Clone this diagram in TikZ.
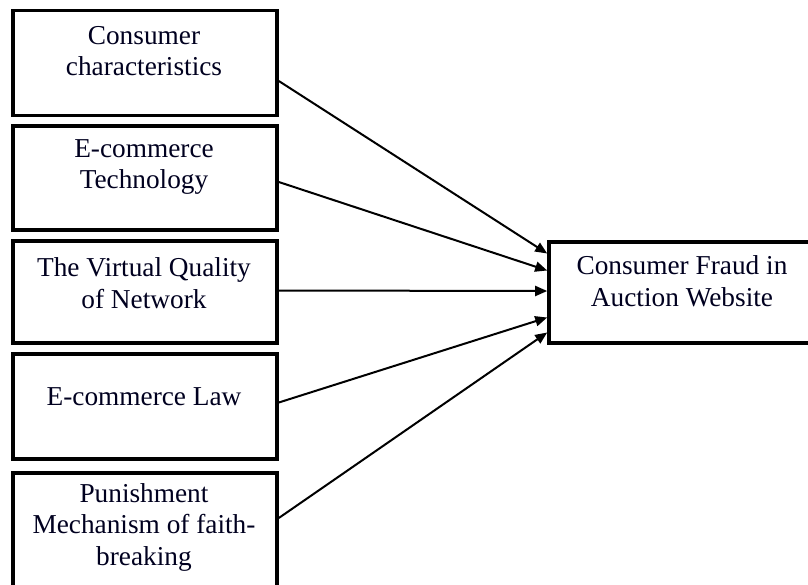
\documentclass[tikz,border=0pt]{standalone}
\usepackage{fontspec}
\setmainfont{Liberation Serif}
\usetikzlibrary{arrows.meta}
\begin{document}
\begin{tikzpicture}[x=1pt,y=-1pt,
  box/.style={draw=black,line width=3.6pt,minimum width=264pt,inner sep=0pt},
  lbl/.style={align=center,font=\fontsize{27.3}{31.5}\selectfont,inner sep=0pt,text=black!88!blue},
  arr/.style={line width=2pt,-{Triangle[length=12pt,width=10pt]}}]
\useasboundingbox (0,0) rectangle (808,584);
\clip (0,0) rectangle (808,584);
\node[box,minimum height=105pt] (b1) at (145,63) {};
\node[box,minimum height=104pt] (b2) at (145,178) {};
\node[box,minimum height=102pt] (b3) at (145,292) {};
\node[box,minimum height=105pt] (b4) at (145,406.5) {};
\node[box,minimum height=140pt] (b5) at (145,543) {};
\node[box,minimum width=280pt,minimum height=101pt] (r) at (689,292.5) {};
\node[lbl] (t1) at (144,51) {Consumer\\characteristics};
\node[lbl] (t2) at (144,167) {E-commerce\\Technology};
\node[lbl] (t3) at (144,283) {The Virtual Quality\\of Network};
\node[lbl] (t4) at (144,397) {E-commerce Law};
\node[lbl] (t5) at (144,527) {Punishment\\Mechanism of faith-\\breaking};
\node[lbl] (tr) at (682,281) {Consumer Fraud in\\Auction Website};
\draw[arr] ([yshift=-18pt]b1.east) -- ([yshift=39pt]r.west);
\draw[arr] ([yshift=-4pt]b2.east) -- ([yshift=22pt]r.west);
\draw[arr] ([yshift=1.5pt]b3.east) -- ([yshift=1.5pt]r.west);
\draw[arr] ([yshift=4pt]b4.east) -- ([yshift=-25pt]r.west);
\draw[arr] ([yshift=25pt]b5.east) -- ([yshift=-40pt]r.west);
\end{tikzpicture}
\end{document}
